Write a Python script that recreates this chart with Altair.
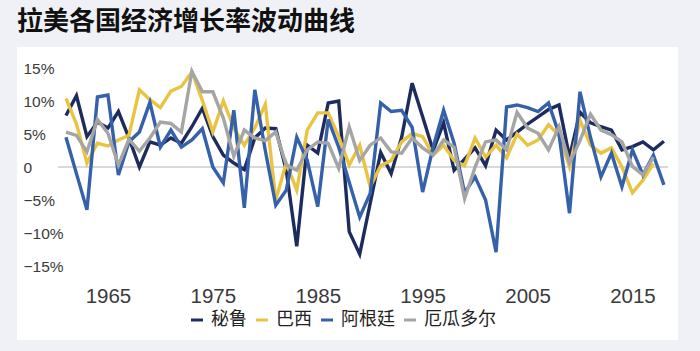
import altair as alt
import pandas as pd

years = list(range(1961, 2019))
names = ["秘鲁", "巴西", "阿根廷", "厄瓜多尔"]
colors = ["#1d2b5f", "#e9c443", "#3561aa", "#a5a5a5"]

peru = [7.8, 10.8, 4.6, 6.8, 5.9, 8.4, 4.4, 0.0, 3.8, 3.3,
        4.4, 3.6, 6.1, 8.9, 4.6, 1.8, 0.6, -0.4, 4.4, 5.9,
        5.8, -0.5, -12.0, 3.3, 2.1, 9.7, 10.0, -9.8, -13.2, -5.5,
        2.2, -1.0, 4.5, 12.7, 7.6, 2.5, 6.7, -0.5, 1.2, 2.9,
        0.2, 5.6, 4.1, 5.3, 6.5, 7.6, 8.7, 9.4, 1.5, 8.3,
        6.7, 6.1, 5.6, 2.6, 3.1, 3.8, 2.6, 3.9]

brazil = [10.4, 6.5, 0.6, 3.6, 3.2, 4.1, 4.8, 11.7, 10.2, 9.0,
          11.5, 12.2, 14.4, 10.1, 5.3, 10.0, 5.9, 3.3, 5.9, 9.5,
          -5.0, 0.6, -3.5, 5.6, 8.2, 8.2, 4.6, 0.3, 3.3, -3.0,
          0.2, 1.0, 3.8, 5.1, 4.6, 1.8, 3.3, 1.0, 0.2, 4.4,
          1.5, 3.3, 1.4, 5.0, 3.3, 4.1, 6.4, 4.8, 0.0, 7.1,
          3.3, 2.1, 2.9, 0.0, -3.9, -2.0, 0.5, None]

argentina = [4.5, -1.0, -6.5, 10.6, 10.9, -1.2, 3.8, 5.3, 9.8, 3.0,
             5.6, 3.0, 4.1, 5.8, 0.0, -2.4, 8.6, -6.2, 11.7, 2.5,
             -5.8, -3.5, 4.5, 1.0, -6.0, 7.2, 3.0, -2.3, -7.6, -4.0,
             9.7, 8.4, 8.6, 6.0, -3.8, 3.0, 8.6, 3.6, -3.9, -1.5,
             -5.0, -12.9, 9.1, 9.4, 9.0, 8.4, 9.7, 5.0, -7.0, 11.4,
             4.5, -1.5, 2.1, -3.0, 2.6, -1.2, 1.8, -2.7]

ecuador = [5.3, 4.8, 2.3, 7.2, 5.1, 0.3, 4.2, 2.4, 4.4, 6.8,
           6.6, 5.3, 14.5, 11.4, 11.4, 7.4, 1.6, 5.6, 4.4, 4.0,
           5.3, 0.3, -0.5, 2.6, 3.8, 3.6, -0.2, 6.1, 1.0, 3.3,
           4.4, 2.3, 2.1, 4.4, 2.9, 1.8, 4.1, 3.0, -4.8, 0.0,
           3.8, 4.1, 2.6, 8.3, 5.9, 5.1, 2.6, 6.1, 0.6, 4.0,
           8.0, 5.6, 4.9, 3.8, 0.1, -1.2, 1.5, None]

x_ticks = [1965, 1975, 1985, 1995, 2005, 2015]
y_ticks = [-15, -10, -5, 0, 5, 10, 15]

rows = []
for name, vals in zip(names, [peru, brazil, argentina, ecuador]):
    for yr, v in zip(years, vals):
        if v is not None:
            rows.append({"year": yr, "country": name, "growth": v})
df = pd.DataFrame(rows)

x_scale = alt.Scale(domain=[1960.24, 2018.39], nice=False, zero=False)
y_scale = alt.Scale(domain=[-15, 15], nice=False)

y_axis = alt.Axis(values=y_ticks, title=None, grid=False, domain=False,
                  ticks=False, tickSize=0, labelPadding=35, labelAlign="left",
                  labelBaseline="middle", zindex=2,
                  labelExpr="datum.value == 0 ? '0' : (datum.value < 0 ? '\u2212' + abs(datum.value) + '%' : datum.value + '%')",
                  labelFont="Liberation Sans", labelFontSize=15.5, labelColor="#3a3a3a")

x_axis = alt.Axis(values=x_ticks, format="d", title=None, grid=False, domain=False,
                  ticks=False, tickSize=0, labelPadding=20, zindex=2,
                  labelFont="Liberation Sans", labelFontSize=20.5, labelColor="#3a3a3a")

panel = alt.Chart(alt.Data(values=[{}])).mark_rect(color="white").encode(
    x=alt.value(-41), x2=alt.value(620), y=alt.value(-21), y2=alt.value(272)
)

zero = alt.Chart(alt.Data(values=[{"growth": 0}])).mark_rule(color="#b3b3b3", strokeWidth=1).encode(
    y=alt.Y("growth:Q", scale=y_scale, axis=y_axis)
)

lines = alt.Chart(df).mark_line(strokeWidth=3.4).encode(
    x=alt.X("year:Q", scale=x_scale, axis=x_axis),
    y=alt.Y("growth:Q", scale=y_scale, axis=y_axis),
    color=alt.Color("country:N", scale=alt.Scale(domain=names, range=colors),
                    legend=alt.Legend(orient="none", legendX=130, legendY=243, direction="horizontal",
                                      title=None, symbolType="stroke", symbolSize=144,
                                      symbolStrokeWidth=3, labelFont="Noto Sans CJK SC",
                                      labelFontSize=18, labelColor="#222222", labelOffset=5,
                                      columnPadding=3)),
)

chart = alt.layer(panel, zero, lines).properties(
    width=610,
    height=198,
    autosize=alt.AutoSizeParams(type="none"),
    padding={"left": 58, "top": 68, "right": 32, "bottom": 85},
    background="#eff1f6",
    title=alt.TitleParams(text="拉美各国经济增长率波动曲线", anchor="start", frame="group",
                          dx=-41, offset=12, font="Noto Sans CJK SC", fontSize=26,
                          fontWeight="bold", color="#111111"),
).configure_view(stroke=None)

chart.save("out.html", embed_options={"renderer": "svg", "actions": False})
